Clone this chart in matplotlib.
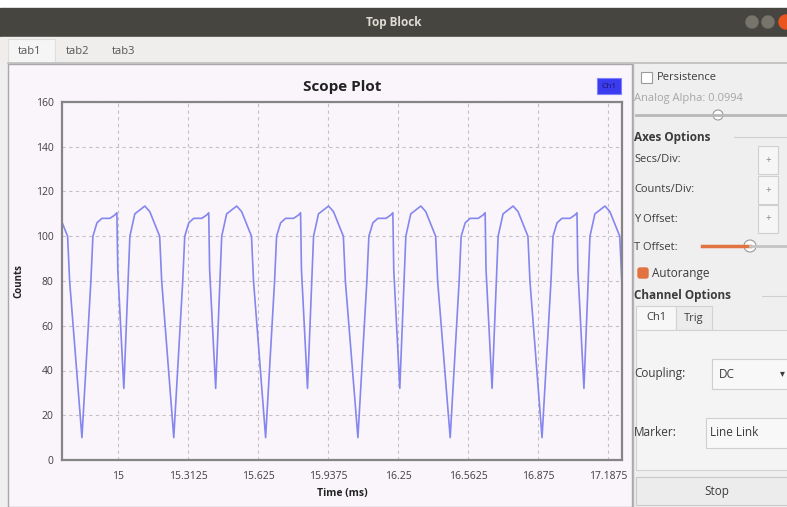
import matplotlib
matplotlib.use("Agg")
import matplotlib.pyplot as plt
from matplotlib.patches import Rectangle, Circle, FancyBboxPatch

# scope trace (time in ms, counts)
time_ms = [
    14.709, 14.731, 14.775, 14.784,
    14.839, 14.879, 14.888, 14.906, 14.928, 14.964, 14.986, 14.995, 14.999, 15.026, 15.053, 15.075, 15.120, 15.142, 15.186, 15.195,
    15.249, 15.289, 15.298, 15.316, 15.338, 15.374, 15.396, 15.405, 15.409, 15.436, 15.463, 15.485, 15.530, 15.552, 15.596, 15.605,
    15.659, 15.699, 15.708, 15.726, 15.748, 15.784, 15.806, 15.815, 15.819, 15.846, 15.873, 15.895, 15.940, 15.962, 16.006, 16.015,
    16.071, 16.111, 16.120, 16.138, 16.160, 16.196, 16.218, 16.227, 16.231, 16.258, 16.285, 16.307, 16.352, 16.374, 16.418, 16.427,
    16.483, 16.523, 16.532, 16.550, 16.572, 16.608, 16.630, 16.639, 16.643, 16.670, 16.697, 16.719, 16.764, 16.786, 16.830, 16.839,
    16.893, 16.933, 16.942, 16.960, 16.982, 17.018, 17.040, 17.049, 17.053, 17.080, 17.107, 17.129, 17.174, 17.196, 17.240, 17.249,
]
counts = [
    113.5, 111, 100, 80,
    10, 80, 100, 106, 108, 108, 109.5, 110.5, 85, 32, 100, 110, 113.5, 111, 100, 80,
    10, 80, 100, 106, 108, 108, 109.5, 110.5, 85, 32, 100, 110, 113.5, 111, 100, 80,
    10, 80, 100, 106, 108, 108, 109.5, 110.5, 85, 32, 100, 110, 113.5, 111, 100, 80,
    10, 80, 100, 106, 108, 108, 109.5, 110.5, 85, 32, 100, 110, 113.5, 111, 100, 80,
    10, 80, 100, 106, 108, 108, 109.5, 110.5, 85, 32, 100, 110, 113.5, 111, 100, 80,
    10, 80, 100, 106, 108, 108, 109.5, 110.5, 85, 32, 100, 110, 113.5, 111, 100, 80,
]

x_ticks = [15, 15.3125, 15.625, 15.9375, 16.25, 16.5625, 16.875, 17.1875]
x_tick_labels = ["15", "15.3125", "15.625", "15.9375", "16.25", "16.5625", "16.875", "17.1875"]
y_ticks = [0, 20, 40, 60, 80, 100, 120, 140, 160]

tabs = ["tab1", "tab2", "tab3"]

plt.rcParams["font.family"] = ["Open Sans", "DejaVu Sans"]

W, H = 787, 507
fig = plt.figure(figsize=(W / 100, H / 100), dpi=100)
fig.patch.set_facecolor("#efefef")

# window chrome drawn in pixel coordinates
gui = fig.add_axes([0, 0, 1, 1])
gui.set_xlim(0, W)
gui.set_ylim(H, 0)
gui.axis("off")

txt = "#3c3c3c"
gui.add_patch(Rectangle((0, 0), W, 8, color="white"))
gui.add_patch(Rectangle((0, 8), W, 29, color="#47453f"))
gui.text(W / 2, 22.5, "Top Block", ha="center", va="center", color="#dedbd2",
         fontsize=8.5, fontweight="bold")
gui.add_patch(Circle((752, 22), 6, color="#77746c"))
gui.add_patch(Circle((768, 22), 6, color="#77746c"))
gui.add_patch(Circle((786, 22), 7, color="#e9541f"))

gui.add_patch(Rectangle((0, 37), W, 26, color="#efeeed"))
gui.add_patch(Rectangle((8, 39), 47, 24, facecolor="#f5f5f5", edgecolor="#dedede", lw=0.8))
for lbl, x in zip(tabs, [30, 78, 124]):
    gui.text(x, 51, lbl, ha="center", va="center", color="#555555", fontsize=8)
gui.plot([8, W], [63, 63], color="#bdbdbd", lw=1.2)

# plot widget background
gui.add_patch(Rectangle((8, 64), 624, 443, facecolor="#faf5fb", edgecolor="#a8a8a8", lw=1))
gui.plot([633, 633], [64, 507], color="#b5b5b5", lw=1)

# right control panel
gui.add_patch(Rectangle((641, 72), 11, 11, facecolor="white", edgecolor="#9a9a9a", lw=0.8))
gui.text(657, 78, "Persistence", va="center", color=txt, fontsize=8)
gui.text(634, 98, "Analog Alpha: 0.0994", va="center", color="#a6a6a6", fontsize=8)
gui.plot([636, W], [115, 115], color="#b8b8b8", lw=2)
gui.add_patch(Circle((718, 115), 5, facecolor="white", edgecolor="#999999", lw=0.8))

gui.text(634, 137, "Axes Options", va="center", color=txt, fontsize=8.5, fontweight="bold")
gui.plot([734, W], [137, 137], color="#cfcfcf", lw=0.8)
for lbl, y in [("Secs/Div:", 160), ("Counts/Div:", 190), ("Y Offset:", 219)]:
    gui.text(634, y, lbl, va="center", color=txt, fontsize=8)
    gui.add_patch(Rectangle((758, y - 14), 20, 28, facecolor="#f6f6f6", edgecolor="#d0d0d0", lw=0.8))
    gui.text(768, y, "+", ha="center", va="center", color="#888888", fontsize=7)
gui.text(634, 248, "T Offset:", va="center", color=txt, fontsize=8)
gui.plot([702, 750], [246, 246], color="#e0733f", lw=2.5)
gui.plot([750, W], [246, 246], color="#c4c4c4", lw=2)
gui.add_patch(Circle((750, 246), 6, facecolor="white", edgecolor="#999999", lw=0.8))

gui.add_patch(FancyBboxPatch((638, 268), 10, 10, boxstyle="round,pad=0,rounding_size=2",
                             color="#e0733f"))
gui.text(652, 274, "Autorange", va="center", color=txt, fontsize=8.5)
gui.text(634, 296, "Channel Options", va="center", color=txt, fontsize=8.5, fontweight="bold")
gui.plot([762, W], [296, 296], color="#cfcfcf", lw=0.8)

gui.add_patch(Rectangle((636, 306), 40, 24, facecolor="#f7f7f7", edgecolor="#d2d2d2", lw=0.8))
gui.add_patch(Rectangle((676, 306), 36, 24, facecolor="#ececec", edgecolor="#d2d2d2", lw=0.8))
gui.text(656, 318, "Ch1", ha="center", va="center", color=txt, fontsize=8)
gui.text(694, 318, "Trig", ha="center", va="center", color=txt, fontsize=8)
gui.add_patch(Rectangle((636, 330), 160, 140, facecolor="#f4f4f4", edgecolor="#d2d2d2", lw=0.8))

gui.text(634, 374, "Coupling:", va="center", color=txt, fontsize=8.5)
gui.add_patch(Rectangle((712, 359), 80, 30, facecolor="#f8f8f8", edgecolor="#cfcfcf", lw=0.8))
gui.text(719, 374, "DC", va="center", color=txt, fontsize=8.5)
gui.text(785, 374, "\u25be", ha="right", va="center", color=txt, fontsize=7)
gui.text(634, 433, "Marker:", va="center", color=txt, fontsize=8.5)
gui.add_patch(Rectangle((706, 418), 86, 30, facecolor="#f8f8f8", edgecolor="#cfcfcf", lw=0.8))
gui.text(710, 433, "Line Link", va="center", color=txt, fontsize=8.5)

gui.add_patch(Rectangle((636, 477), 160, 28, facecolor="#ececec", edgecolor="#c8c8c8", lw=0.8))
gui.text(717, 492, "Stop", ha="center", va="center", color=txt, fontsize=8.5)

# scope plot
ax = fig.add_axes([62 / W, 1 - 460 / H, 560 / W, 358 / H])
ax.set_facecolor("#faf5fb")
ax.plot(time_ms, counts, color="#8586ee", lw=1.2)
ax.set_xlim(14.75, 17.25)
ax.set_ylim(0, 160)
ax.set_xticks(x_ticks)
ax.set_xticklabels(x_tick_labels)
ax.set_yticks(y_ticks)
ax.tick_params(length=0, labelsize=7.5, labelcolor="#404040")
ax.tick_params(axis="x", pad=8)
ax.tick_params(axis="y", pad=6)
ax.grid(True, color="#c4c1c6", lw=0.8, ls=(0, (3, 3)))
for s in ax.spines.values():
    s.set_color("#858585")
    s.set_linewidth(1.6)

ax.set_title("Scope Plot", fontsize=11, fontweight="bold", color="#222222", pad=8)
ax.set_xlabel("Time (ms)", fontsize=7.5, fontweight="bold", color="#222222", labelpad=4)
ax.set_ylabel("Counts", fontsize=7, fontweight="bold", color="#222222", labelpad=8)

# legend chip
gui.add_patch(Rectangle((597, 78), 24, 16, facecolor="#3b3bf0", edgecolor="#8080ff", lw=0.8, zorder=5))
gui.text(609, 86, "Ch1", ha="center", va="center", color="#1a1a60", fontsize=6, zorder=6)

fig.savefig("out.png", dpi=100, facecolor=fig.get_facecolor())
